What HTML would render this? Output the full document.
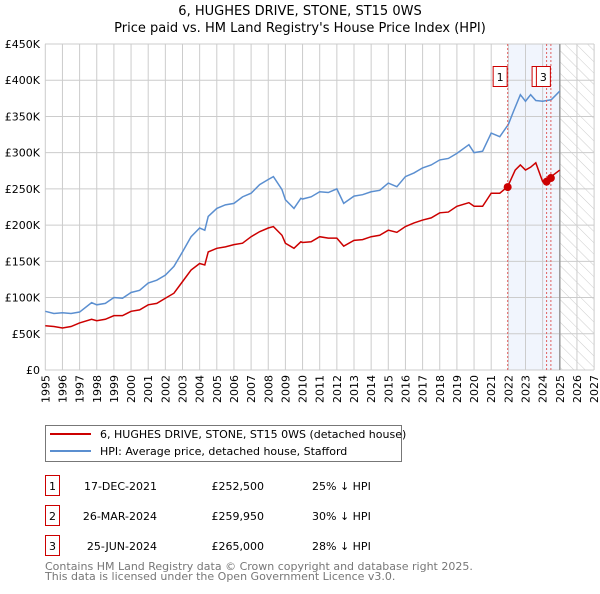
<!DOCTYPE html>
<html><head><meta charset="utf-8"><style>
body{margin:0;background:#fff;font-family:"DejaVu Sans","Liberation Sans",sans-serif;}
svg text{font-family:"DejaVu Sans","Liberation Sans",sans-serif;}
</style></head><body>
<svg id="c" width="600" height="590" xmlns="http://www.w3.org/2000/svg">
<defs><pattern id="hatch" width="8" height="8" patternUnits="userSpaceOnUse" patternTransform="rotate(-45)"><rect width="8" height="8" fill="#fff"/><line x1="0" y1="0" x2="0" y2="8" stroke="#ccc" stroke-width="1"/></pattern></defs>
<text x="300" y="15" font-size="13" text-anchor="middle">6, HUGHES DRIVE, STONE, ST15 0WS</text>
<text x="300" y="32" font-size="13" text-anchor="middle">Price paid vs. HM Land Registry's House Price Index (HPI)</text>
<g id="plot"></g>
<g>
<rect x="45.5" y="425.5" width="356" height="36" fill="#fff" stroke="#777"/>
<line x1="50" y1="434" x2="91" y2="434" stroke="#cc0000" stroke-width="2"/>
<text x="100" y="438" font-size="11">6, HUGHES DRIVE, STONE, ST15 0WS (detached house)</text>
<line x1="50" y1="451" x2="91" y2="451" stroke="#5b8fd0" stroke-width="2"/>
<text x="100" y="455" font-size="11">HPI: Average price, detached house, Stafford</text>
</g>
<g font-size="11">
<rect x="45.5" y="475.5" width="14" height="20" fill="#fff" stroke="#cc0000"/><text x="52.5" y="490" text-anchor="middle">1</text>
<text x="157" y="490" text-anchor="end">17-DEC-2021</text><text x="264" y="490" text-anchor="end">£252,500</text><text x="312" y="490">25% ↓ HPI</text>
<rect x="45.5" y="505.5" width="14" height="20" fill="#fff" stroke="#cc0000"/><text x="52.5" y="520" text-anchor="middle">2</text>
<text x="157" y="520" text-anchor="end">26-MAR-2024</text><text x="264" y="520" text-anchor="end">£259,950</text><text x="312" y="520">30% ↓ HPI</text>
<rect x="45.5" y="535.5" width="14" height="20" fill="#fff" stroke="#cc0000"/><text x="52.5" y="550" text-anchor="middle">3</text>
<text x="157" y="550" text-anchor="end">25-JUN-2024</text><text x="264" y="550" text-anchor="end">£265,000</text><text x="312" y="550">28% ↓ HPI</text>
</g>
<text x="45" y="570" font-size="11" fill="#777">Contains HM Land Registry data © Crown copyright and database right 2025.</text>
<text x="45" y="580" font-size="11" fill="#777">This data is licensed under the Open Government Licence v3.0.</text>
</svg>
<script>
const yTicks=[0,50,100,150,200,250,300,350,400,450];
const yLabels=["£0","£50K","£100K","£150K","£200K","£250K","£300K","£350K","£400K","£450K"];
const xYears=[1995,1996,1997,1998,1999,2000,2001,2002,2003,2004,2005,2006,2007,2008,2009,2010,2011,2012,2013,2014,2015,2016,2017,2018,2019,2020,2021,2022,2023,2024,2025,2026,2027];
const hpiT=[1995,1995.5,1996,1996.5,1997,1997.7,1998,1998.5,1999,1999.5,2000,2000.5,2001,2001.5,2002,2002.5,2003,2003.5,2004,2004.3,2004.5,2005,2005.5,2006,2006.5,2007,2007.5,2008,2008.3,2008.8,2009,2009.5,2009.9,2010,2010.5,2011,2011.5,2012,2012.4,2013,2013.5,2014,2014.5,2015,2015.5,2016,2016.5,2017,2017.5,2018,2018.5,2019,2019.7,2020,2020.5,2021,2021.5,2022,2022.3,2022.7,2023,2023.3,2023.6,2024,2024.5,2025];
const hpiV=[81,78,79,78,80,93,90,92,100,99,107,110,120,124,131,143,163,184,196,193,212,223,228,230,239,244,256,263,267,249,235,223,237,236,239,246,245,250,230,240,242,246,248,258,253,267,272,279,283,290,292,299,311,300,302,327,322,339,357,380,371,380,372,371,373,385];
const ppT=[1995,1995.5,1996,1996.5,1997,1997.7,1998,1998.5,1999,1999.5,2000,2000.5,2001,2001.5,2002,2002.5,2003,2003.5,2004,2004.3,2004.5,2005,2005.5,2006,2006.5,2007,2007.5,2008,2008.3,2008.8,2009,2009.5,2009.9,2010,2010.5,2011,2011.5,2012,2012.4,2013,2013.5,2014,2014.5,2015,2015.5,2016,2016.5,2017,2017.5,2018,2018.5,2019,2019.7,2020,2020.5,2021,2021.5,2021.96,2022.4,2022.7,2023,2023.3,2023.6,2024,2024.25,2024.5,2025];
const ppV=[61,60,58,60,65,70,68,70,75,75,81,83,90,92,99,106,122,138,147,145,163,168,170,173,175,184,191,196,198,186,175,168,177,176,177,184,182,182,171,179,180,184,186,193,190,198,203,207,210,217,218,226,231,226,226,244,244,253,276,283,276,280,286,260,258,267,276];
const saleT=[2021.96,2024.23,2024.48];
const saleV=[252.5,259.95,265];
const saleLbl=["1","2","3"];
const NS="http://www.w3.org/2000/svg";
const X0=45.3,PX=17.15,Y0=370,PY=326/450;
const xs=t=>X0+(t-1995)*PX, ys=v=>Y0-v*PY;
const g=document.getElementById('plot');
function mk(tag,at,parent){const e=document.createElementNS(NS,tag);for(const k in at)e.setAttribute(k,at[k]);(parent||g).appendChild(e);return e;}
let e;
e=mk('rect',{x:xs(2022),y:44,width:xs(2025)-xs(2022),height:326,fill:'#eef3fc',opacity:0.8});


e=mk('rect',{x:xs(2025),y:44,width:xs(2027)-xs(2025),height:326,fill:'url(#hatch)'});


xYears.forEach(y=>{e=mk('line',{x1:xs(y),x2:xs(y),y1:44,y2:370,stroke:'#ccc'});


e=mk('text',{x:0,y:0,'font-size':11,'text-anchor':'end',transform:`translate(${xs(y)+4},375) rotate(-90)`});e.textContent=y;

});
yTicks.forEach((v,i)=>{e=mk('line',{x1:45,x2:594,y1:ys(v),y2:ys(v),stroke:'#ccc'});


e=mk('text',{x:40,y:ys(v)+4,'font-size':11,'text-anchor':'end'});e.textContent=yLabels[i];

});
e=mk('line',{x1:xs(2025),x2:xs(2025),y1:44,y2:370,stroke:'#999','stroke-width':1.5});


e=mk('polyline',{points:hpiT.map((t,i)=>xs(t)+','+ys(hpiV[i])).join(' '),fill:'none',stroke:'#5b8fd0','stroke-width':1.5});


e=mk('polyline',{points:ppT.map((t,i)=>xs(t)+','+ys(ppV[i])).join(' '),fill:'none',stroke:'#cc0000','stroke-width':1.5});


saleT.forEach((t,i)=>{
e=mk('line',{x1:xs(t),x2:xs(t),y1:44,y2:370,stroke:'#e06060','stroke-dasharray':'2,2'});


e=mk('circle',{cx:xs(t),cy:ys(saleV[i]),r:4,fill:'#cc0000'});


e=mk('rect',{x:xs(t)-14.5,y:66.5,width:14,height:20,fill:'#fff',stroke:'#cc0000'});


e=mk('text',{x:xs(t)-7.5,y:81,'font-size':11,'text-anchor':'middle'});e.textContent=saleLbl[i];

});
</script>
</body></html>
